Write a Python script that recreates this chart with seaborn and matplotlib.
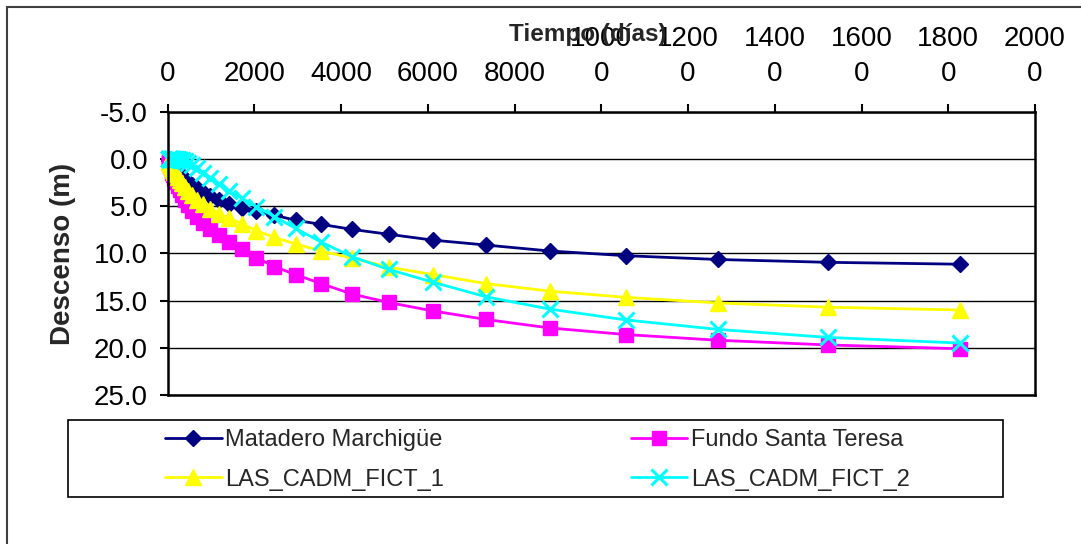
import pandas as pd
import matplotlib.pyplot as plt
import seaborn as sns
from matplotlib.patches import Rectangle
from matplotlib.ticker import FormatStrFormatter

# datos (tiempo en días, descenso en m)
tiempo = [26, 31, 37, 44, 53, 64, 77, 92, 111, 133, 160, 191, 230, 276, 331, 397,
          476, 572, 686, 823, 988, 1185, 1422, 1707, 2048, 2458, 2950, 3539, 4247,
          5097, 6116, 7339, 8807, 10568, 12682, 15219, 18262]

matadero = [0.05, 0.07, 0.1, 0.13, 0.18, 0.25, 0.33, 0.43, 0.55, 0.7, 0.88, 1.08, 1.3,
            1.55, 1.82, 2.1, 2.4, 2.75, 3.1, 3.5, 3.9, 4.3, 4.75, 5.2, 5.55, 5.95, 6.5,
            6.93, 7.46, 7.98, 8.6, 9.12, 9.75, 10.25, 10.65, 10.95, 11.15]

fundo = [0.22, 0.3, 0.4, 0.5, 0.65, 0.8, 1.0, 1.2, 1.45, 1.75, 2.1, 2.45, 2.85, 3.3, 3.8,
         4.3, 4.9, 5.5, 6.1, 6.75, 7.4, 8.1, 8.75, 9.5, 10.45, 11.4, 12.25, 13.2, 14.3,
         15.2, 16.1, 17.0, 17.9, 18.6, 19.2, 19.7, 20.1]

fict_1 = [0.12, 0.17, 0.22, 0.3, 0.4, 0.5, 0.6, 0.75, 0.95, 1.15, 1.4, 1.65, 1.95, 2.25,
          2.6, 3.0, 3.4, 3.85, 4.3, 4.8, 5.3, 5.8, 6.3, 6.85, 7.6, 8.3, 9.0, 9.75, 10.5,
          11.45, 12.25, 13.2, 14.0, 14.66, 15.25, 15.7, 16.0]

fict_2 = [0.0, 0.0, 0.0, 0.0, 0.0, 0.0, 0.0, 0.0, 0.0, 0.0, 0.01, 0.02, 0.04, 0.08, 0.14,
          0.24, 0.4, 0.65, 1.0, 1.45, 2.0, 2.65, 3.4, 4.15, 5.05, 6.1, 7.35, 8.8, 10.35,
          11.7, 13.05, 14.6, 15.9, 17.05, 18.05, 18.9, 19.5]

x_ticks = [0, 2000, 4000, 6000, 8000, 10000, 12000, 14000, 16000, 18000, 20000]
x_labels = ["0", "2000", "4000", "6000", "8000", "1000\n0", "1200\n0", "1400\n0",
            "1600\n0", "1800\n0", "2000\n0"]
y_ticks = [-5, 0, 5, 10, 15, 20, 25]

series = [
    ("Matadero Marchigüe", matadero, "#000080", "D", 8.0, 1.0),
    ("Fundo Santa Teresa", fundo, "#FF00FF", "s", 10.0, 1.0),
    ("LAS_CADM_FICT_1", fict_1, "#FFFF00", "^", 11.0, 1.0),
    ("LAS_CADM_FICT_2", fict_2, "#00FFFF", "x", 11.0, 2.2),
]

sns.set_style("white")
plt.rcParams["font.family"] = ["Liberation Sans", "DejaVu Sans"]

fig = plt.figure(figsize=(10.81, 5.44), dpi=100)
ax = fig.add_axes([0.155, 0.2739, 0.8025, 0.5208])

for nombre, valores, color, marcador, tam, mew in series:
    df = pd.DataFrame({"tiempo": tiempo, "descenso": valores})
    sns.lineplot(data=df, x="tiempo", y="descenso", ax=ax, color=color,
                 marker=marcador, markersize=tam, markeredgecolor=color,
                 markeredgewidth=mew, linewidth=2, label=nombre,
                 errorbar=None, legend=False, clip_on=False)

ax.set_xlim(0, 20000)
ax.set_ylim(25, -5)
ax.set_xticks(x_ticks)
ax.set_xticklabels(x_labels)
ax.set_yticks(y_ticks)
ax.yaxis.set_major_formatter(FormatStrFormatter("%.1f"))
ax.xaxis.tick_top()
ax.set_xlabel("")
ax.set_ylabel("")

ax.tick_params(axis="x", top=True, bottom=False, length=6, width=1.5,
               direction="out", pad=12, labelsize=20, colors="black")
ax.tick_params(axis="y", left=True, length=6, width=1.5, direction="out",
               pad=8, labelsize=20, colors="black")
for lab in ax.get_xticklabels():
    lab.set_linespacing(1.45)

ax.yaxis.grid(True, color="black", linewidth=1)
ax.xaxis.grid(False)
ax.set_axisbelow(True)
for s in ax.spines.values():
    s.set_color("black")
    s.set_linewidth(1.8)

fig.text(588 / 1081, 1 - 41 / 544, "Tiempo (días)", ha="center", va="baseline",
         fontsize=17.5, fontweight="bold")
fig.text(63 / 1081, 1 - 254 / 544, "Descenso (m)", rotation=90, ha="center",
         va="center", fontsize=20, fontweight="bold")

# leyenda en dos columnas
handles, labels = ax.get_legend_handles_labels()
orden = [0, 2, 1, 3]
fig.legend([handles[i] for i in orden], [labels[i] for i in orden], ncol=2,
           loc="upper left", bbox_to_anchor=(165 / 1081, 1 - 429 / 544),
           frameon=False, fontsize=17, handlelength=2.4, handletextpad=0.15,
           columnspacing=7.9, borderpad=0, borderaxespad=0, labelspacing=0.75)

fig.add_artist(Rectangle((68 / 1081, 1 - 497 / 544), (1003 - 68) / 1081, 77 / 544,
                         transform=fig.transFigure, fill=False, edgecolor="black",
                         linewidth=1.2))
fig.add_artist(Rectangle((7 / 1081, -0.1), 1.2, 1.1 - 7 / 544,
                         transform=fig.transFigure, fill=False, edgecolor="#404040",
                         linewidth=1.5))

fig.savefig("out.png", dpi=100)
